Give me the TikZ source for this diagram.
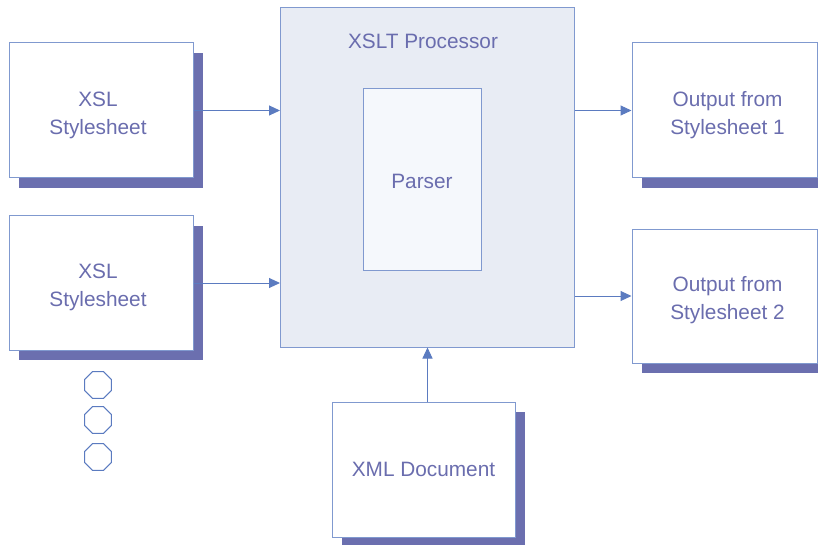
\documentclass[tikz,border=0pt]{standalone}
\usepackage{fontspec}
\setmainfont{Liberation Sans}
\usetikzlibrary{arrows.meta,shadows,shapes.geometric}
\definecolor{txt}{HTML}{6A6DAE}
\definecolor{bord}{HTML}{8099CF}
\definecolor{shad}{HTML}{6B6FAF}
\definecolor{arrc}{HTML}{5B7BC0}
\definecolor{procfill}{HTML}{E8ECF4}
\definecolor{parsfill}{HTML}{F5F8FC}
\newcommand\twoline[3]{\raisebox{-4pt}[\height][\depth]{\kern#1\begin{tabular}{@{}c@{}}#2\\#3\end{tabular}\kern-#1}}
\tikzset{
  box/.style={draw=bord, line width=1pt, fill=white, text=txt, align=center,
    font=\fontsize{20.8}{28}\selectfont, inner sep=0pt,
    drop shadow={shadow xshift=10pt, shadow yshift=-10pt, fill=shad, opacity=1}},
  plain/.style={draw=bord, line width=1pt, text=txt, align=center,
    font=\fontsize{20.8}{28}\selectfont, inner sep=0pt},
  arr/.style={draw=arrc, line width=1pt, -{Triangle[length=11pt,width=10pt]}},
  dot/.style={draw=arrc, line width=1.1pt, regular polygon, regular polygon sides=8, minimum size=29pt, inner sep=0pt}
}
\begin{document}
\begin{tikzpicture}[x=1pt,y=-1pt]
\useasboundingbox (0,0) rectangle (818,545);
\node[box, minimum width=184pt, minimum height=135pt] (x1) at (101,110.5) {\twoline{-3pt}{XSL}{Stylesheet}};
\node[box, minimum width=184pt, minimum height=134pt] (x2) at (101,283) {\twoline{-3pt}{XSL}{Stylesheet}};
\node[plain, fill=procfill, minimum width=294pt, minimum height=339pt] (proc) at (427.5,177.5) {};
\node[text=txt, font=\fontsize{20.8}{28}\selectfont] (ptitle) at (423,41) {XSLT Processor};
\node[plain, fill=parsfill, minimum width=118pt, minimum height=181pt] (pars) at (422,179.5) {\raisebox{-1.5pt}[\height][\depth]{Parser}};
\node[box, minimum width=185pt, minimum height=135pt] (o1) at (724.5,110.5) {\twoline{3pt}{Output from}{Stylesheet 1}};
\node[box, minimum width=185pt, minimum height=134pt] (o2) at (724.5,296) {\twoline{3pt}{Output from}{Stylesheet 2}};
\node[box, minimum width=183pt, minimum height=135pt] (xml) at (423.5,469.5) {XML Document};
\node[dot] (d1) at (98,385) {};
\node[dot] (d2) at (98,420) {};
\node[dot] (d3) at (98,457) {};
\draw[arr] (x1.east) -- (x1.east -| proc.west);
\draw[arr] (x2.east) -- (x2.east -| proc.west);
\draw[arr] (proc.east |- o1.west) -- (o1.west);
\draw[arr] (proc.east |- o2.west) -- (o2.west);
\draw[arr] (xml.north -| proc.south) -- (proc.south);
\end{tikzpicture}
\end{document}
